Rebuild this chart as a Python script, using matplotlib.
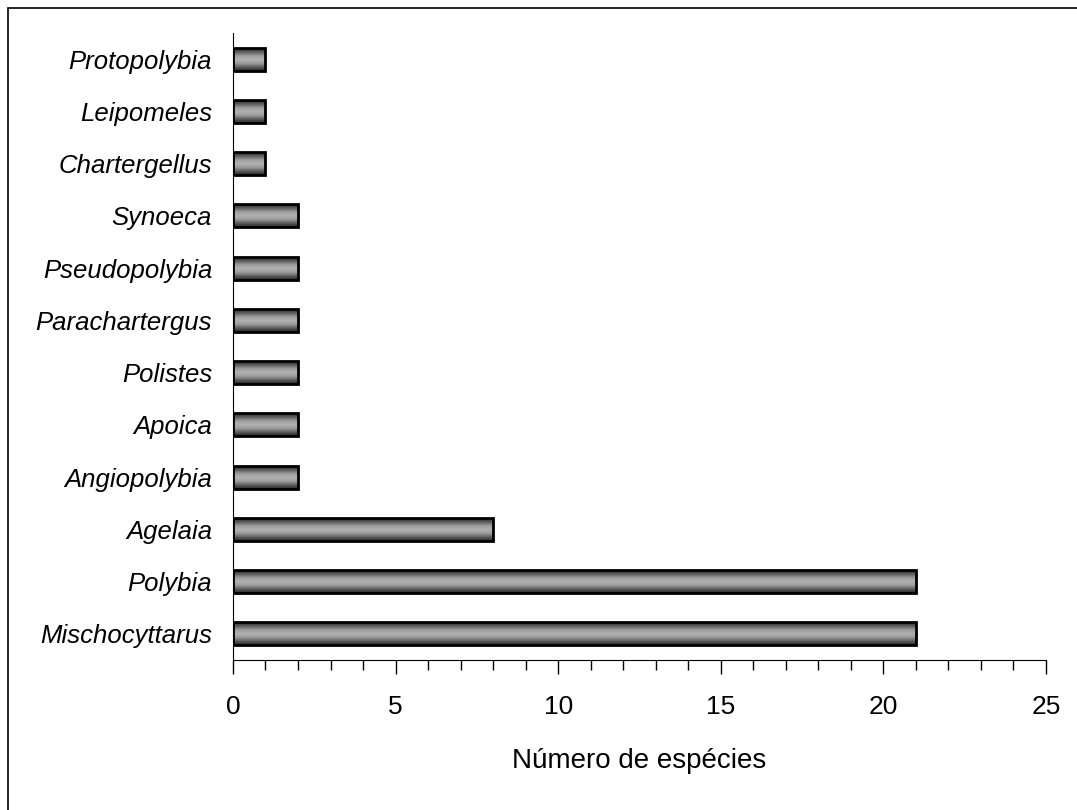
import numpy as np
import matplotlib.pyplot as plt
from matplotlib.patches import Rectangle
from matplotlib.colors import LinearSegmentedColormap

generos = ["Mischocyttarus", "Polybia", "Agelaia", "Angiopolybia", "Apoica",
           "Polistes", "Parachartergus", "Pseudopolybia", "Synoeca",
           "Chartergellus", "Leipomeles", "Protopolybia"]
especies = [21, 21, 8, 2, 2, 2, 2, 2, 2, 1, 1, 1]

plt.rcParams['font.family'] = ['Liberation Sans', 'DejaVu Sans']

fig = plt.figure(figsize=(10.77, 8.1), dpi=100)
ax = fig.add_axes([0.2163, 0.1852, 0.9712 - 0.2163, 0.9593 - 0.1852])

# moldura da figura (so aparece em cima e a esquerda)
fig.patches.append(Rectangle((8 / 1077, -0.1), 1.2, 1.1 - 8 / 810,
                             transform=fig.transFigure, fill=False,
                             edgecolor='black', linewidth=1.2))

cmap = LinearSegmentedColormap.from_list(
    "barra", ["#262626", "#5e5e5e", "#9c9c9c", "#b2b2b2", "#9c9c9c", "#5e5e5e", "#262626"])
grad = np.linspace(0, 1, 64).reshape(-1, 1)

y = np.arange(len(generos))
h = 0.44
bars = ax.barh(y, especies, height=h, color='none', edgecolor='black', linewidth=2, zorder=3)
for b in bars:
    x0, y0 = b.get_x(), b.get_y()
    im = ax.imshow(grad, cmap=cmap, aspect='auto', interpolation='bicubic',
                   extent=[x0, x0 + b.get_width(), y0, y0 + b.get_height()], zorder=2)
    im.set_clip_path(b)

ax.set_xlim(0, 25)
ax.set_ylim(-0.5, len(generos) - 0.5)
ax.set_yticks(y)
ax.set_yticklabels(generos, style='italic', fontsize=18.5)
ax.set_xticks(range(0, 26, 5))
ax.set_xticks(range(0, 26), minor=True)
ax.tick_params(axis='x', which='major', length=10, width=1, direction='out', labelsize=19, pad=15)
ax.tick_params(axis='x', which='minor', length=7, width=1, direction='out')
ax.tick_params(axis='y', length=0, pad=15)
ax.spines['top'].set_visible(False)
ax.spines['right'].set_visible(False)
ax.set_xlabel("Número de espécies", fontsize=20, labelpad=21)

fig.savefig("out.png", dpi=100)
